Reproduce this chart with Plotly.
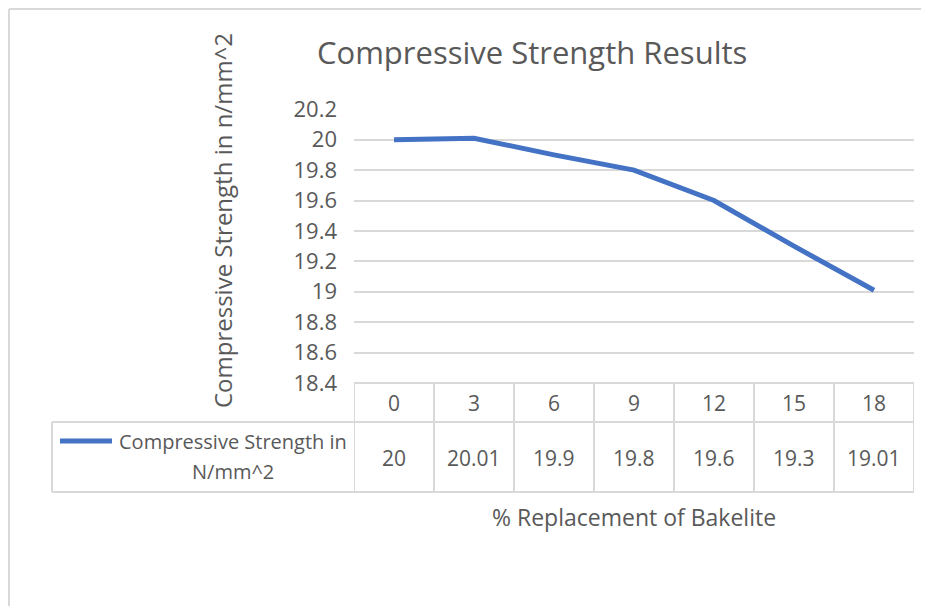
import plotly.graph_objects as go

# ---- data ----
replacement_pct = ["0", "3", "6", "9", "12", "15", "18"]
strength = [20, 20.01, 19.9, 19.8, 19.6, 19.3, 19.01]
value_labels = ["20", "20.01", "19.9", "19.8", "19.6", "19.3", "19.01"]
series_name_lines = ["Compressive Strength in", "N/mm^2"]
chart_title = "Compressive Strength Results"
x_title = "% Replacement of Bakelite"
y_title = "Compressive Strength in n/mm^2"

W, H = 929, 606
OFF = 8  # page body margin offset


def px(x):
    return (x - OFF) / W


def py(y):
    return 1 - (y - OFF) / H


BLUE = "#4472C4"
GRID = "#d9d9d9"
TXT = "#595959"
FONT = "Open Sans"

# plot area in screen pixels
PL, PR, PT, PB = 354, 914, 109.3, 383
ROW1_B, ROW2_B, ROW2_L = 422, 492, 52

fig = go.Figure()
fig.add_trace(go.Scatter(
    x=replacement_pct, y=strength, mode="lines",
    line=dict(color=BLUE, width=5), name=" ".join(series_name_lines),
    showlegend=False, hoverinfo="x+y"))

shapes = []
line_style = dict(color=GRID, width=2)
# outer chart border (top & left)
top_y = 1 - 1 / H
shapes.append(dict(type="line", xref="paper", yref="paper", x0=px(9), x1=px(940), y0=top_y, y1=top_y, line=line_style))
shapes.append(dict(type="line", xref="paper", yref="paper", x0=px(9), x1=px(9), y0=top_y, y1=py(620), line=line_style))
# data table lines
shapes.append(dict(type="line", xref="paper", yref="paper", x0=px(PL), x1=px(PR), y0=py(PB), y1=py(PB), line=line_style))
shapes.append(dict(type="line", xref="paper", yref="paper", x0=px(ROW2_L), x1=px(PR), y0=py(ROW1_B), y1=py(ROW1_B), line=line_style))
shapes.append(dict(type="line", xref="paper", yref="paper", x0=px(ROW2_L), x1=px(PR), y0=py(ROW2_B), y1=py(ROW2_B), line=line_style))
shapes.append(dict(type="line", xref="paper", yref="paper", x0=px(ROW2_L), x1=px(ROW2_L), y0=py(ROW1_B), y1=py(ROW2_B), line=line_style))
for i in range(len(replacement_pct) + 1):
    shapes.append(dict(type="line", xref="x", yref="paper", x0=i - 0.5, x1=i - 0.5,
                       y0=py(PB), y1=py(ROW2_B), line=line_style))
# legend key in table
shapes.append(dict(type="line", xref="paper", yref="paper", x0=px(60), x1=px(112), y0=py(441), y1=py(441),
                   line=dict(color=BLUE, width=5)))

annotations = []
for i, (cat, lab) in enumerate(zip(replacement_pct, value_labels)):
    annotations.append(dict(x=i, xref="x", y=py(403), yref="paper", text=cat, showarrow=False,
                            font=dict(family=FONT, size=21, color=TXT), xanchor="center", yanchor="middle"))
    annotations.append(dict(x=i, xref="x", y=py(458), yref="paper", text=lab, showarrow=False,
                            font=dict(family=FONT, size=21, color=TXT), xanchor="center", yanchor="middle"))
annotations.append(dict(x=px(233), y=py(441), xref="paper", yref="paper", text=series_name_lines[0], showarrow=False,
                        font=dict(family=FONT, size=20, color=TXT), xanchor="center", yanchor="middle"))
annotations.append(dict(x=px(233), y=py(471), xref="paper", yref="paper", text=series_name_lines[1], showarrow=False,
                        font=dict(family=FONT, size=20, color=TXT), xanchor="center", yanchor="middle"))
annotations.append(dict(x=px(634), y=py(517), xref="paper", yref="paper", text=x_title, showarrow=False,
                        font=dict(family=FONT, size=23, color=TXT), xanchor="center", yanchor="middle"))
annotations.append(dict(x=px(222), y=py(221), xref="paper", yref="paper", text=y_title, showarrow=False, textangle=-90,
                        font=dict(family=FONT, size=24, color=TXT), xanchor="center", yanchor="middle"))
annotations.append(dict(x=px(532), y=py(52), xref="paper", yref="paper", text=chart_title, showarrow=False,
                        font=dict(family=FONT, size=31, color=TXT), xanchor="center", yanchor="middle"))

fig.update_layout(
    width=W, height=H, margin=dict(l=0, r=0, t=0, b=0, autoexpand=False),
    paper_bgcolor="white", plot_bgcolor="white",
    shapes=shapes, annotations=annotations,
    xaxis=dict(domain=[px(PL), px(PR)], range=[-0.5, 6.5], type="category", automargin=False,
               showgrid=False, showticklabels=False, zeroline=False, showline=False, ticks=""),
    yaxis=dict(domain=[py(PB), py(PT)], range=[18.4, 20.2], dtick=0.2, tick0=18.4, automargin=False,
               showgrid=True, gridcolor=GRID, gridwidth=2, zeroline=False, showline=False,
               ticks="", ticklabelstandoff=16,
               tickfont=dict(family=FONT, size=22, color=TXT)),
    font=dict(family=FONT, color=TXT),
)

fig.write_html("out.html")
